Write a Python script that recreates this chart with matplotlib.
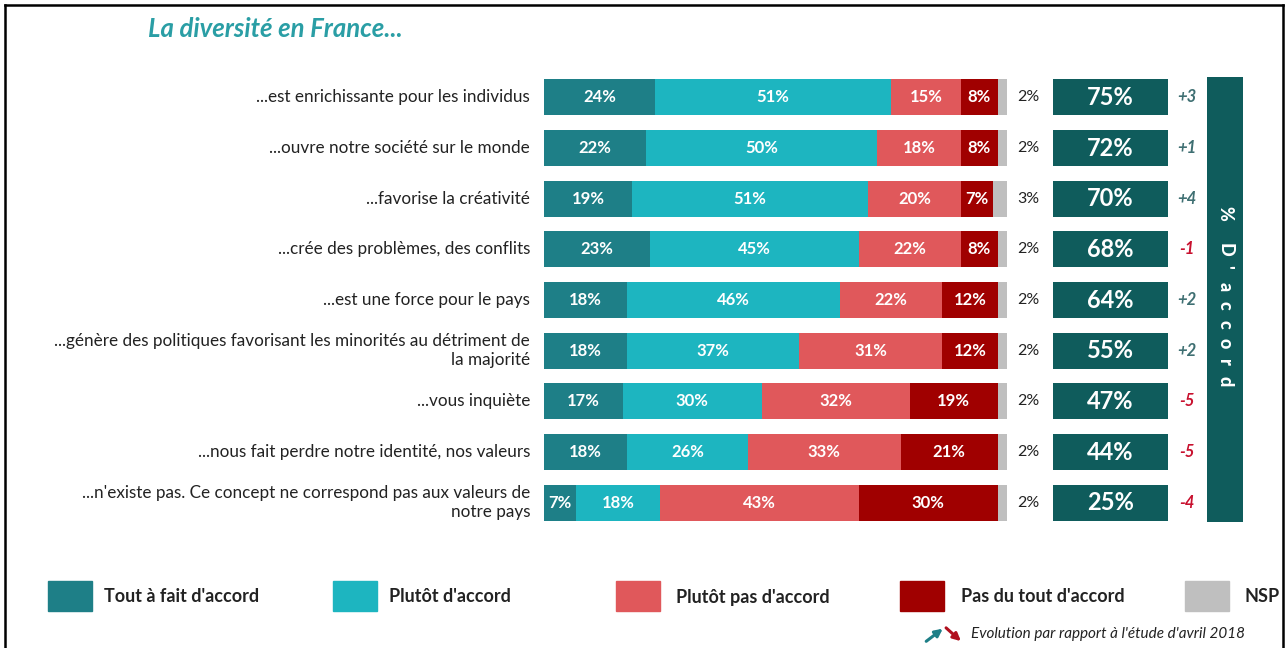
import numpy as np
import matplotlib
matplotlib.use("Agg")
import matplotlib.pyplot as plt
from matplotlib.patches import Rectangle, FancyArrowPatch
from matplotlib.lines import Line2D

plt.rcParams["font.family"] = ["Lato", "DejaVu Sans"]

W, H = 1288, 648

LABELS = [
    "...est enrichissante pour les individus",
    "...ouvre notre société sur le monde",
    "...favorise la créativité",
    "...crée des problèmes, des conflits",
    "...est une force pour le pays",
    "...génère des politiques favorisant les minorités au détriment de\nla majorité",
    "...vous inquiète",
    "...nous fait perdre notre identité, nos valeurs",
    "...n'existe pas. Ce concept ne correspond pas aux valeurs de\nnotre pays",
]
TOUT = [24, 22, 19, 23, 18, 18, 17, 18, 7]
PLUTOT = [51, 50, 51, 45, 46, 37, 30, 26, 18]
PLUTOT_PAS = [15, 18, 20, 22, 22, 31, 32, 33, 43]
PAS_DU_TOUT = [8, 8, 7, 8, 12, 12, 19, 21, 30]
NSP = [2, 2, 3, 2, 2, 2, 2, 2, 2]
TOTAL_ACCORD = [75, 72, 70, 68, 64, 55, 47, 44, 25]
EVOLUTION = ["+3", "+1", "+4", "-1", "+2", "+2", "-5", "-5", "-4"]

SERIES = ["Tout à fait d'accord", "Plutôt d'accord", "Plutôt pas d'accord",
          "Pas du tout d'accord", "NSP"]
COLORS = ["#1E7F87", "#1DB5C0", "#E0585B", "#A00000", "#BFBFBF"]
DARK = "#0F5C5C"
POS_COL = "#3E6F72"
NEG_COL = "#C8102E"


def fx(px):
    return px / W


def fy(py):
    return 1 - py / H


fig = plt.figure(figsize=(W / 100, H / 100), dpi=100)
fig.patch.set_facecolor("white")

# main axes: x in percent (100% = 463 px), one row per statement
unit = 463 / 100
top_px, row_px = 72, 456 / 9
ax = fig.add_axes([fx(544), fy(528), (1243 - 544) / W, 456 / H])
ax.set_xlim(0, (1243 - 544) / unit)
ax.set_ylim(len(LABELS) - 0.5, -0.5)
ax.axis("off")

y = np.arange(len(LABELS))
left = np.zeros(len(LABELS))
for vals, col, name in zip([TOUT, PLUTOT, PLUTOT_PAS, PAS_DU_TOUT, NSP], COLORS, SERIES):
    vals = np.array(vals, dtype=float)
    ax.barh(y, vals, left=left, height=0.71, color=col, edgecolor="none")
    if name != "NSP":
        for yi, l, v in zip(y, left, vals):
            ax.text(l + v / 2, yi, f"{int(v)}%", ha="center", va="center",
                    color="white", fontsize=12, fontweight="bold")
    left += vals

for yi, v in zip(y, NSP):
    ax.text(102.2, yi, f"{v}%", ha="left", va="center", color="#222222",
            fontsize=11.5)

for yi, lab in zip(y, LABELS):
    ax.text(-3, yi, lab, ha="right", va="center", color="#222222",
            fontsize=12.3, linespacing=1.25)

# % d'accord boxes
box_l = (1053 - 544) / unit
box_w = (1168 - 1053) / unit
ax.barh(y, [box_w] * len(y), left=box_l, height=0.71, color=DARK, edgecolor="none")
for yi, t in zip(y, TOTAL_ACCORD):
    ax.text(box_l + box_w / 2, yi, f"{t}%", ha="center", va="center",
            color="white", fontsize=17, fontweight="bold")
for yi, e in zip(y, EVOLUTION):
    ax.text((1187 - 544) / unit, yi, e, ha="center", va="center",
            color=POS_COL if e.startswith("+") else NEG_COL,
            fontsize=12, fontstyle="italic", fontweight="bold")

# vertical side band with spaced letters
band_l = (1207 - 544) / unit
band_w = (1243 - 1207) / unit
ax.add_patch(Rectangle((band_l, (77 - top_px) / row_px - 0.5), band_w,
                       (522 - 77) / row_px, color=DARK, lw=0))
letters = ["%", "D", "'", "a", "c", "c", "o", "r", "d"]
letter_px = [213, 250, 267, 287, 305, 324, 343, 362, 381]
for ch, py in zip(letters, letter_px):
    ax.text(band_l + band_w / 2, (py - top_px) / row_px - 0.5, ch, rotation=-90,
            ha="center", va="center", color="white", fontsize=13,
            fontweight="black")

# title
fig.text(fx(148), fy(29), "La diversité en France...", ha="left", va="center",
         color="#2A9EA5", fontsize=18.5, fontweight="bold", fontstyle="italic")

# legend
leg_sq = [48, 333, 616, 900, 1185]
leg_tx = [104, 389, 676, 961, 1245]
for sx, tx, col, name in zip(leg_sq, leg_tx, COLORS, SERIES):
    fig.patches.append(Rectangle((fx(sx), fy(611)), 44 / W, 30 / H, color=col,
                                 transform=fig.transFigure, figure=fig))
    fig.text(fx(tx), fy(597), name, ha="left", va="center", color="#222222",
             fontsize=13, fontweight="bold")

# footer with evolution arrows
fig.patches.append(FancyArrowPatch((fx(924), fy(643)), (fx(945), fy(627)),
                                   transform=fig.transFigure, arrowstyle="-|>",
                                   mutation_scale=11, color="#1E7F87", lw=2.2))
fig.patches.append(FancyArrowPatch((fx(944), fy(626)), (fx(963), fy(643)),
                                   transform=fig.transFigure, arrowstyle="-|>",
                                   mutation_scale=11, color="#B0101E", lw=2.2))
fig.text(fx(971), fy(634), "Evolution par rapport à l'étude d'avril 2018",
         ha="left", va="center", color="#222222", fontsize=11, fontstyle="italic")

# frame
for xs, ys in [([5, 5], [5, 648]), ([5, 1283], [5, 5]), ([1283, 1283], [5, 648])]:
    fig.add_artist(Line2D([fx(v) for v in xs], [fy(v) for v in ys],
                          color="black", lw=1.8))

fig.savefig("out.png", dpi=100)
